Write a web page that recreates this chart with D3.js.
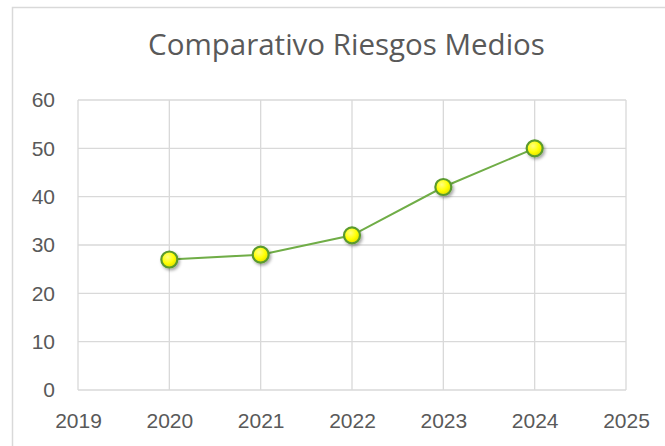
<!DOCTYPE html>
<html><head><meta charset="utf-8">
<script src="https://cdn.jsdelivr.net/npm/d3@7"></script>
<style>body{margin:0;background:#fff;}svg{display:block;}</style>
</head><body>
<svg id="c" width="665" height="446"></svg>
<script>
const years = [2020, 2021, 2022, 2023, 2024];
const values = [27, 28, 32, 42, 50];
const xTicks = [2019, 2020, 2021, 2022, 2023, 2024, 2025];
const yTicks = [0, 10, 20, 30, 40, 50, 60];
const title = "Comparativo Riesgos Medios";

const svg = d3.select("#c");
const font = "'Liberation Sans', Arial, sans-serif";
svg.append("rect").attr("x",12.5).attr("y",7.5).attr("width",665).attr("height",446)
  .attr("fill","#fff").attr("stroke","#d9d9d9").attr("stroke-width",1.5);

const L=78, R=626, T=100, B=390;
const x = d3.scaleLinear().domain([2019,2025]).range([L,R]);
const y = d3.scaleLinear().domain([0,60]).range([B,T]);

const defs = svg.append("defs");
const rg = defs.append("radialGradient").attr("id","g").attr("cx","40%").attr("cy","35%").attr("r","65%");
rg.append("stop").attr("offset","0%").attr("stop-color","#ffff80");
rg.append("stop").attr("offset","60%").attr("stop-color","#ffff00");
rg.append("stop").attr("offset","100%").attr("stop-color","#e0e000");
const f = defs.append("filter").attr("id","sh").attr("x","-50%").attr("y","-50%").attr("width","200%").attr("height","200%");
f.append("feDropShadow").attr("dx",1.5).attr("dy",2).attr("stdDeviation",1.5).attr("flood-color","#000").attr("flood-opacity",0.35);

const grid = svg.append("g");
grid.selectAll("line.h").data(yTicks).join("line")
  .attr("x1",L).attr("x2",R).attr("y1",d=>y(d)).attr("y2",d=>y(d))
  .attr("stroke","#d9d9d9").attr("stroke-width",1.3);
grid.selectAll("line.v").data(xTicks).join("line")
  .attr("y1",T).attr("y2",B).attr("x1",d=>x(d)).attr("x2",d=>x(d))
  .attr("stroke","#d9d9d9").attr("stroke-width",1.3);

const xAxis = svg.append("g").attr("transform",`translate(0,${B})`)
  .call(d3.axisBottom(x).tickValues(xTicks).tickFormat(d3.format("d")).tickSize(0).tickPadding(0));
const yAxis = svg.append("g").attr("transform",`translate(${L},0)`)
  .call(d3.axisLeft(y).tickValues(yTicks).tickSize(0).tickPadding(23));
[xAxis,yAxis].forEach(a=>{
  a.select(".domain").remove();
  a.selectAll("text").attr("font-family",font).attr("font-size",21).attr("fill","#595959");
});
xAxis.selectAll("text").attr("y",38).attr("dy","0");

const line = d3.line().x((d,i)=>x(years[i])).y(d=>y(d));
svg.append("path").datum(values).attr("d",line).attr("fill","none")
  .attr("stroke","#70ad47").attr("stroke-width",2);

svg.selectAll("circle.m").data(values).join("circle")
  .attr("cx",(d,i)=>x(years[i])).attr("cy",d=>y(d)).attr("r",8)
  .attr("fill","url(#g)").attr("stroke","#5a9a2e").attr("stroke-width",2.2)
  .attr("filter","url(#sh)");

const t = svg.append("text").attr("x",346.5).attr("y",55).attr("text-anchor","middle")
  .attr("font-family","'Open Sans', sans-serif").attr("font-size",26).attr("fill","#595959").text(title);
const w = t.node().getComputedTextLength();
t.attr("font-size", 26*397/w);
</script>
</body></html>
